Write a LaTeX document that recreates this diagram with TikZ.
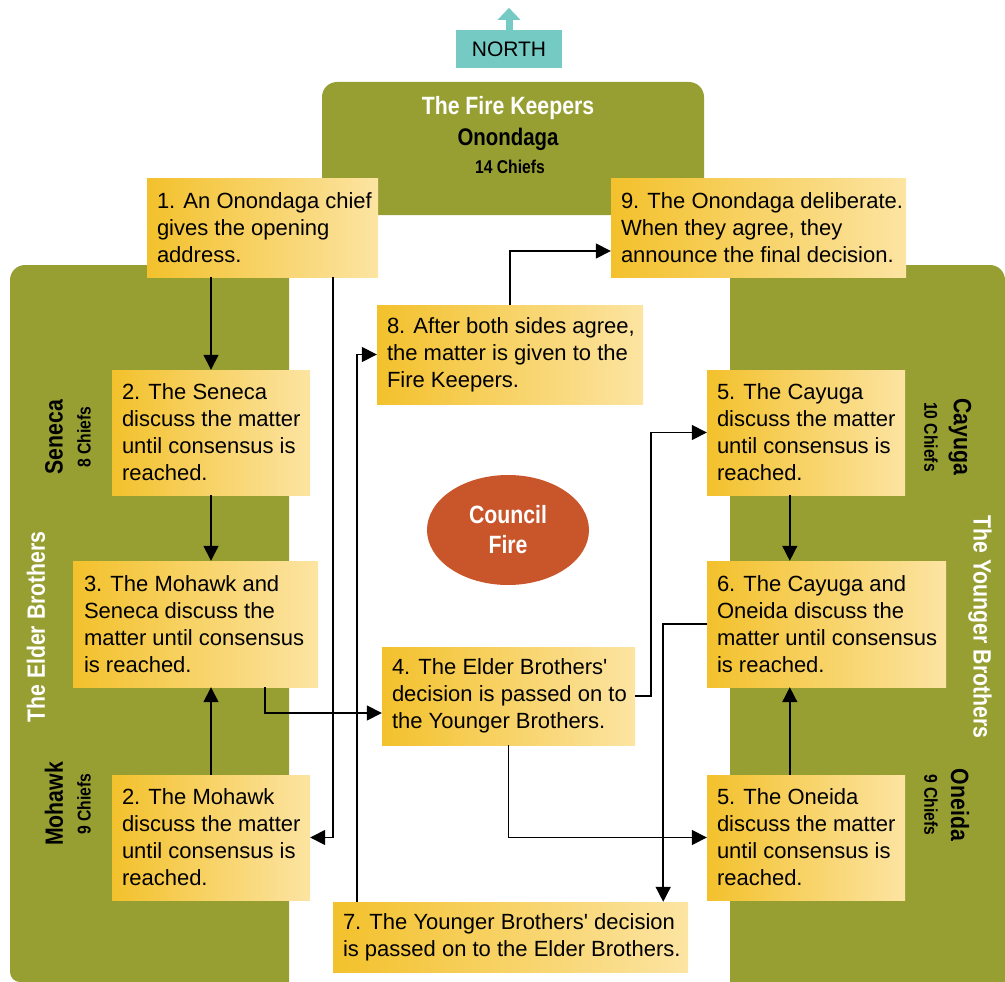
\documentclass[tikz,border=0pt]{standalone}
\usepackage{fontspec}
\setmainfont{Liberation Sans}
\newfontfamily\cb{Liberation Sans}[FakeStretch=0.85]
\usetikzlibrary{arrows.meta,shapes.geometric}
\definecolor{ol}{HTML}{979F33}
\definecolor{tl}{HTML}{75CBC4}
\definecolor{fire}{HTML}{C9552B}
\definecolor{yl}{HTML}{F3C12C}
\definecolor{yr}{HTML}{FCE4A2}
\begin{document}
\begin{tikzpicture}[x=1pt,y=-1pt,
  box/.style={rectangle, inner sep=0pt, left color=yl, right color=yr, draw=none},
  txt/.style={inner sep=0pt, align=left, anchor=west, font=\fontsize{22}{27}\selectfont},
  conn/.style={line width=1.6pt, -{Triangle[length=15pt,width=15pt]}},
  bold/.style={inner sep=0pt, font=\cb\bfseries\fontsize{25}{30}\selectfont},
  chiefs/.style={inner sep=0pt, font=\cb\bfseries\fontsize{18.5}{22}\selectfont},
]
\useasboundingbox (0,0) rectangle (1005,982);

% panels
\fill[ol] (322,215) -- (322,97) arc[start angle=180,end angle=90,radius=15pt] -- (689,82) arc[start angle=90,end angle=0,radius=15pt] -- (704,215) -- cycle;
\fill[ol] (289,265) -- (25,265) arc[start angle=90,end angle=180,radius=15pt] -- (10,972) arc[start angle=180,end angle=270,radius=10pt] -- (289,982) -- cycle;
\fill[ol] (730,982) -- (730,265) -- (990,265) arc[start angle=90,end angle=0,radius=15pt] -- (1005,982) -- cycle;

% north
\node[fill=tl, minimum width=106pt, minimum height=38pt, inner sep=0pt, font=\fontsize{21}{24}\selectfont] (north) at (509,49) {NORTH};
\draw[tl, line width=7pt, -{Triangle[length=12pt,width=22pt]}] (north.north) -- ++(0,-22);

% panel labels
\node[bold, text=white] (fk) at (508,108) {The Fire Keepers};
\node[bold, font=\cb\bfseries\fontsize{24}{28}\selectfont] (ono) at (508,139) {Onondaga};
\node[chiefs] (onoc) at (510,167) {14 Chiefs};

\node[bold, text=white, rotate=90] (elder) at (36,627) {The Elder Brothers};
\node[bold, rotate=90] (senl) at (54,437) {Seneca};
\node[chiefs, rotate=90] (senc) at (84,437) {8 Chiefs};
\node[bold, rotate=90] (mohl) at (54,804) {Mohawk};
\node[chiefs, rotate=90] (mohc) at (84,804) {9 Chiefs};

\node[bold, text=white, rotate=-90] (younger) at (980,627) {The Younger Brothers};
\node[bold, rotate=-90] (cayl) at (960,437) {Cayuga};
\node[chiefs, rotate=-90] (cayc) at (931,437) {10 Chiefs};
\node[bold, rotate=-90] (onel) at (960,805) {Oneida};
\node[chiefs, rotate=-90] (onec) at (931,805) {9 Chiefs};

% council fire
\node[ellipse, fill=fire, minimum width=162pt, minimum height=110pt, inner sep=0pt, text=white, align=center, font=\cb\bfseries\fontsize{25}{30}\selectfont] (cf) at (508,530) {Council\\Fire};

% boxes
\node[box, minimum width=231pt, minimum height=99pt] (b1) at (262.5,227.5) {};
\node[box, minimum width=295pt, minimum height=99pt] (b9) at (758.5,227.5) {};
\node[box, minimum width=266pt, minimum height=99pt] (b8) at (510,354.5) {};
\node[box, minimum width=198pt, minimum height=125pt] (sen) at (211,432.5) {};
\node[box, minimum width=245pt, minimum height=126pt] (b3) at (195.5,624) {};
\node[box, minimum width=253pt, minimum height=98pt] (b4) at (508.5,696) {};
\node[box, minimum width=198pt, minimum height=125pt] (moh) at (211,837.5) {};
\node[box, minimum width=198pt, minimum height=125pt] (cay) at (806,432.5) {};
\node[box, minimum width=239pt, minimum height=126pt] (b6) at (826.5,624) {};
\node[box, minimum width=198pt, minimum height=125pt] (one) at (806,837.5) {};
\node[box, minimum width=355pt, minimum height=70pt] (b7) at (510.5,937) {};

\node[txt] (t1) at ([xshift=10pt]b1.west) {1. An Onondaga chief\\gives the opening\\address.};
\node[txt] (t9) at ([xshift=10pt]b9.west) {9. The Onondaga deliberate.\\When they agree, they\\announce the final decision.};
\node[txt] (t8) at ([xshift=10pt]b8.west) {8. After both sides agree,\\the matter is given to the\\Fire Keepers.};
\node[txt] (tsen) at ([xshift=10pt]sen.west) {2. The Seneca\\discuss the matter\\until consensus is\\reached.};
\node[txt] (t3) at ([xshift=11pt]b3.west) {3. The Mohawk and\\Seneca discuss the\\matter until consensus\\is reached.};
\node[txt] (t4) at ([xshift=10pt]b4.west) {4. The Elder Brothers\textquotesingle\\decision is passed on to\\the Younger Brothers.};
\node[txt] (tmoh) at ([xshift=10pt]moh.west) {2. The Mohawk\\discuss the matter\\until consensus is\\reached.};
\node[txt] (tcay) at ([xshift=10pt]cay.west) {5. The Cayuga\\discuss the matter\\until consensus is\\reached.};
\node[txt] (t6) at ([xshift=10pt]b6.west) {6. The Cayuga and\\Oneida discuss the\\matter until consensus\\is reached.};
\node[txt] (tone) at ([xshift=10pt]one.west) {5. The Oneida\\discuss the matter\\until consensus is\\reached.};
\node[txt] (t7) at ([xshift=10pt]b7.west) {7. The Younger Brothers\textquotesingle{} decision\\is passed on to the Elder Brothers.};

% connectors
\draw[conn] (sen.north |- b1.south) -- (sen.north);
\draw[conn] (sen.south) -- (sen.south |- b3.north);
\draw[conn] (moh.north) -- (moh.north |- b3.south);
\draw[conn] ([xshift=-45pt]b1.south east) |- (moh.east);
\draw[conn] ([xshift=-53pt]b3.south east) |- ([yshift=-17pt]b4.west);
\draw[conn] (b4.east) -- ++(16,0) |- (cay.west);
\draw[conn] (b4.south) |- (one.west);
\draw[conn] ([xshift=83pt]cay.south west) -- ([xshift=83pt]b6.north west);
\draw[conn] ([xshift=83pt]one.north west) -- ([xshift=83pt]b6.south west);
\draw[conn] (b6.west) -| ([xshift=-25pt]b7.north east);
\draw[conn] ([xshift=24pt]b7.north west) |- (b8.west);
\draw[conn] (b8.north) |- ([yshift=-23.5pt]b9.west);
\end{tikzpicture}
\end{document}
